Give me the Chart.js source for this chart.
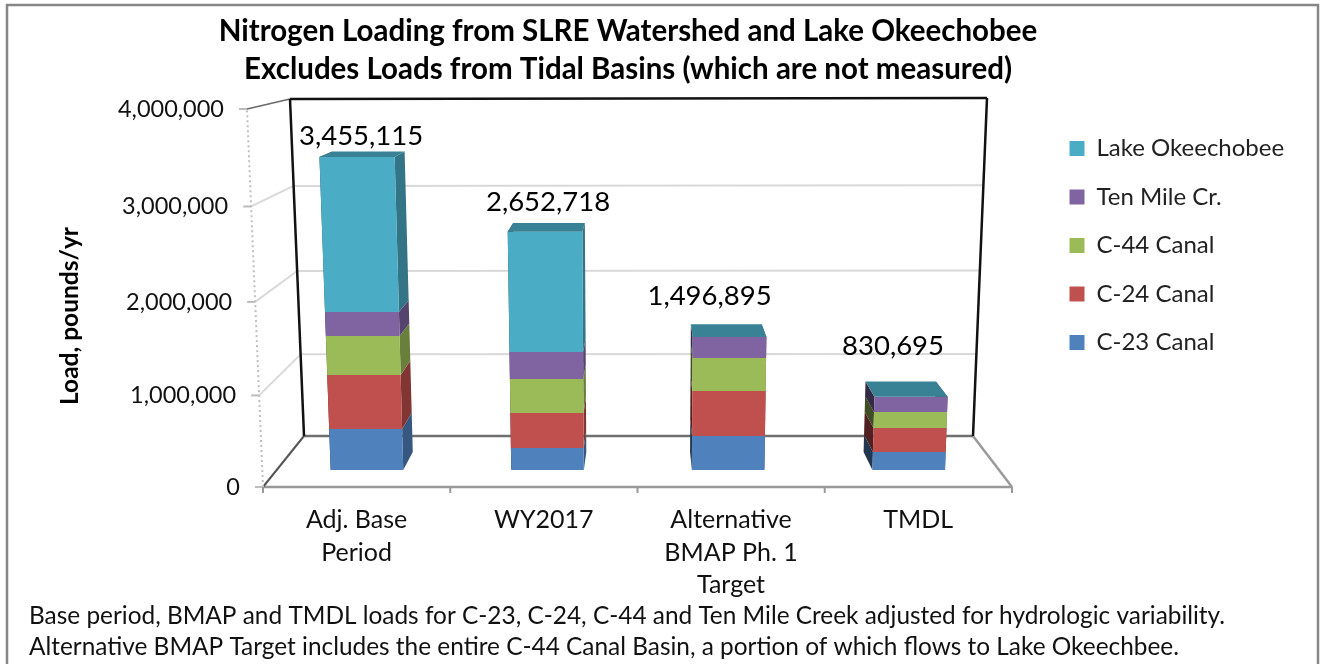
<!DOCTYPE html>
<html><head><meta charset="utf-8">
<style>html,body{margin:0;padding:0;background:#fff}canvas{display:block}</style>
<script src="https://cdn.jsdelivr.net/npm/chart.js@4"></script>
</head><body><canvas id="c" width="1320" height="664"></canvas>
<script>
const titleLines = ['Nitrogen Loading from SLRE Watershed and Lake Okeechobee','Excludes Loads from Tidal Basins (which are not measured)'];
const categories = [['Adj. Base','Period'],'WY2017',['Alternative','BMAP Ph. 1','Target'],'TMDL'];
const c23 = [467000,251000,387000,205000];
const c24 = [608000,397000,508000,273000];
const c44 = [434000,382000,370000,180000];
const tenMile = [266000,301000,232000,173000];
const lake = [1680115,1321718,0,0];
const totalLabels = ['3,455,115','2,652,718','1,496,895','830,695'];
const yAxisTitle = 'Load, pounds/yr';
const footnotes = ['Base period, BMAP and TMDL loads for C-23, C-24, C-44 and Ten Mile Creek adjusted for hydrologic variability.',
 'Alternative BMAP Target includes the entire C-44 Canal Basin, a portion of which flows to Lake Okeechbee.'];

const FONT = 'Lato, "Open Sans", sans-serif';
// box corners of the Excel-style perspective view
const BOX = {fbl:[263,487],fbr:[1012,487],ftl:[247,109],ftr:[1028,109],bbl:[304,436],bbr:[973,436],btl:[290,99],btr:[987,98]};
const WARP = 0.0424, Z_FRONT = 0.333, Z_BACK = 0.686;
const lerp=(a,b,k)=>a+(b-a)*k;
function proj(s,t,z){
  const w=t/(1+WARP*(1-t));
  const f=i=>{
    const fb=lerp(BOX.fbl[i],BOX.fbr[i],s), ft=lerp(BOX.ftl[i],BOX.ftr[i],s);
    const bb=lerp(BOX.bbl[i],BOX.bbr[i],s), bt=lerp(BOX.btl[i],BOX.btr[i],s);
    return lerp(lerp(fb,ft,w),lerp(bb,bt,w),z);
  };
  return [f(0),f(1)];
}
function line(ctx,a,b,col,w,dash){ctx.save();ctx.strokeStyle=col;ctx.lineWidth=w;ctx.setLineDash(dash||[]);ctx.beginPath();ctx.moveTo(a[0],a[1]);ctx.lineTo(b[0],b[1]);ctx.stroke();ctx.restore();}
function poly(ctx,pts,col){ctx.fillStyle=col;ctx.beginPath();pts.forEach((p,i)=>i?ctx.lineTo(p[0],p[1]):ctx.moveTo(p[0],p[1]));ctx.closePath();ctx.fill();}
function shade(hex,k){const n=parseInt(hex.slice(1),16);return `rgb(${(n>>16&255)*k|0},${(n>>8&255)*k|0},${(n&255)*k|0})`;}
// label anchor offsets from the front-top centre of each bar
const labelShift=[[4,-21],[3,-30],[-20,-41],[-18,-51]];

const view3d={
  id:'view3d',
  afterLayout(chart){
    const l=chart.legend; l.left=1045; l.right=1312; l.top=112; l.bottom=640;
    const t=chart.titleBlock; t.left=0; t.right=1256;
  },
  beforeDraw(chart){
    const ctx=chart.ctx;
    ctx.save();ctx.strokeStyle='#878787';ctx.lineWidth=2.5;ctx.beginPath();
    ctx.moveTo(7,670);ctx.lineTo(7,5);ctx.lineTo(1318,5);ctx.lineTo(1318,670);ctx.stroke();ctx.restore();
  },
  beforeDatasetsDraw(chart){
    const ctx=chart.ctx,a=chart.chartArea,ys=chart.scales.y;
    const T=v=>(a.bottom-ys.getPixelForValue(v))/a.height;
    // gridlines
    ys.ticks.forEach(k=>{
      const t=T(k.value);
      if(t>0&&t<1) line(ctx,proj(0,t,1),proj(1,t,1),'#d9d9d9',2);
      if(t>0&&t<1) line(ctx,proj(0,t,1),proj(0,t,0),'#d9d9d9',2);
      const p=proj(0,t,0);
      line(ctx,[p[0]-8,p[1]],p,'#bdbdbd',2);
    });
    // floor and walls
    line(ctx,proj(0,0,0),proj(1,0,0),'#999999',2.5);
    line(ctx,proj(1,0,0),proj(1,0,1),'#9a9a9a',2.5);
    line(ctx,proj(0,0,1),proj(1,0,1),'#707070',2.5);
    line(ctx,proj(0,0,0),proj(0,0,1),'#555555',2);
    line(ctx,proj(0,1,0),proj(0,1,1),'#6a6a6a',1.5);
    line(ctx,proj(0,0,0),proj(0,1,0),'#bfbfbf',2,[2,3]);
    line(ctx,proj(0,1,1),proj(1,1,1),'#111111',2.5);
    line(ctx,proj(0,0,1),proj(0,1,1),'#111111',2.5);
    line(ctx,proj(1,0,1),proj(1,1,1),'#111111',2.5);
    const n=chart.data.labels.length;
    for(let i=0;i<=n;i++){const p=proj(i/n,0,0);line(ctx,p,[p[0],p[1]+6],'#999999',2);}
    // bars: take each element's position from the library and project it
    const U=x=>(x-a.left)/a.width;
    for(let b=0;b<n;b++){
      let topFace=null;
      chart.data.datasets.forEach((ds,di)=>{
        const el=chart.getDatasetMeta(di).data[b];
        if(!el||ds.data[b]===0)return;
        const p=el.getProps(['x','y','base','width'],true);
        const s0=U(p.x-p.width/2),s1=U(p.x+p.width/2),t0=(a.bottom-p.base)/a.height,t1=(a.bottom-p.y)/a.height;
        const col=ds.backgroundColor;
        poly(ctx,[proj(s0,t0,Z_FRONT),proj(s0,t1,Z_FRONT),proj(s0,t1,Z_BACK),proj(s0,t0,Z_BACK)],shade(col,.42));
        poly(ctx,[proj(s1,t0,Z_FRONT),proj(s1,t1,Z_FRONT),proj(s1,t1,Z_BACK),proj(s1,t0,Z_BACK)],shade(col,.68));
        poly(ctx,[proj(s0,t0,Z_FRONT),proj(s1,t0,Z_FRONT),proj(s1,t1,Z_FRONT),proj(s0,t1,Z_FRONT)],col);
        topFace={s0,s1,t1};
      });
      if(topFace){
        const {s0,s1,t1}=topFace;
        poly(ctx,[proj(s0,t1,Z_FRONT),proj(s1,t1,Z_FRONT),proj(s1,t1,Z_BACK),proj(s0,t1,Z_BACK)],shade('#4bacc6',.76));
        const f=proj((s0+s1)/2,t1,Z_FRONT);
        ctx.save();ctx.fillStyle='#000';ctx.font='27.5px '+FONT;ctx.textAlign='center';ctx.textBaseline='middle';
        ctx.fillText(totalLabels[b],f[0]+labelShift[b][0],f[1]+labelShift[b][1]);ctx.restore();
      }
    }
    // value-axis labels follow the slanted front edge
    ctx.save();ctx.fillStyle='#111';ctx.font='23.5px '+FONT;ctx.textAlign='right';ctx.textBaseline='middle';
    ys.ticks.forEach(k=>{const p=proj(0,T(k.value),0);ctx.fillText(k.label,p[0]-23,p[1]);});
    ctx.restore();
    ctx.save();ctx.translate(70,316);ctx.rotate(-Math.PI/2);ctx.fillStyle='#000';ctx.font='bold 24.5px '+FONT;ctx.textAlign='center';ctx.textBaseline='middle';
    ctx.fillText(yAxisTitle,0,0);ctx.restore();
    ctx.save();ctx.fillStyle='#111';ctx.font='24.4px '+FONT;ctx.textBaseline='middle';
    ctx.fillText(footnotes[0],29,616);ctx.fillText(footnotes[1],29,647);ctx.restore();
  },
  beforeDatasetDraw(){return false;}
};

const mk=(label,data,color)=>({label,data,backgroundColor:color,borderWidth:0,stack:'s',categoryPercentage:1,barPercentage:.402});
new Chart(document.getElementById('c'),{
  type:'bar',
  data:{labels:categories,datasets:[
    mk('C-23 Canal',c23,'#4f81bd'),
    mk('C-24 Canal',c24,'#c0504d'),
    mk('C-44 Canal',c44,'#9bbb59'),
    mk('Ten Mile Cr.',tenMile,'#8064a2'),
    mk('Lake Okeechobee',lake,'#4bacc6')]},
  plugins:[view3d],
  options:{
    responsive:false,animation:false,
    layout:{padding:{left:8,right:59,top:0,bottom:0}},
    plugins:{
      title:{display:true,text:titleLines,color:'#000',font:{family:FONT,size:29.5,weight:'bold',lineHeight:1.29},padding:{top:12,bottom:21}},
      legend:{display:true,position:'right',reverse:true,align:'start',labels:{color:'#222',boxWidth:15,boxHeight:15,padding:24.5,font:{family:FONT,size:24}}},
      tooltip:{enabled:false}
    },
    scales:{
      x:{stacked:true,grid:{display:false},border:{display:false},
         ticks:{color:'#111',font:{family:FONT,size:25,lineHeight:1.3},padding:9,maxRotation:0,autoSkip:false},
         afterFit(s){s.height=177;}},
      y:{stacked:true,min:0,max:4000000,grid:{display:false},border:{display:false},
         ticks:{display:false,stepSize:1000000,callback:v=>v.toLocaleString('en-US')},
         afterFit(s){s.width=255;}}
    }
  }
});
</script></body></html>
